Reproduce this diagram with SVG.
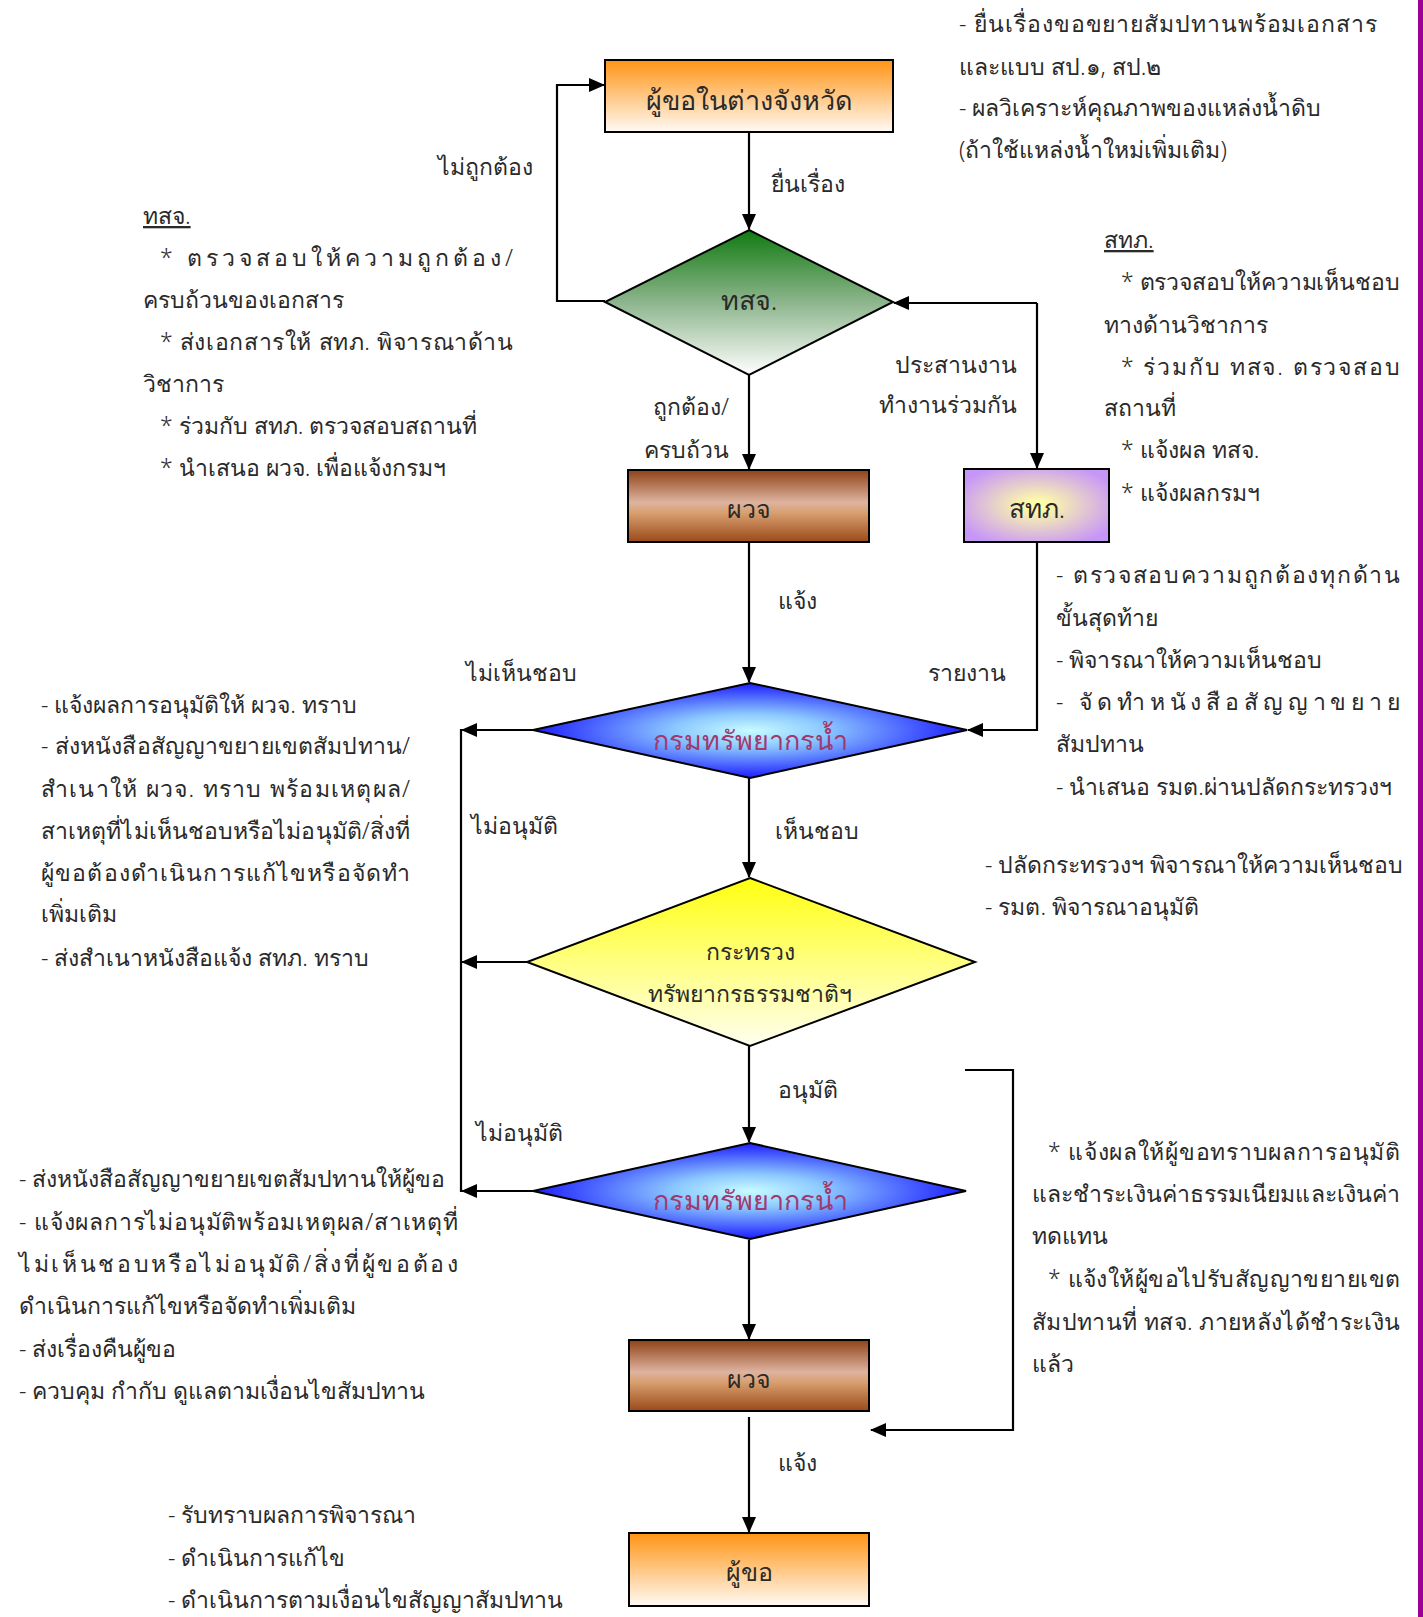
<svg xmlns="http://www.w3.org/2000/svg" width="1423" height="1617" viewBox="0 0 1423 1617">
<style>
text{font-family:"Noto Sans","DejaVu Sans",sans-serif;fill:#2a2a2a;font-weight:300;}
.t{font-size:23px;}
.c{text-anchor:middle;}
.e{text-anchor:end;}
.nt{font-size:27px;text-anchor:middle;}
.bl{font-size:27px;text-anchor:middle;fill:#a03a6e;}
.shape{stroke:#000;stroke-width:2;}
.conn path{fill:none;stroke:#000;stroke-width:2.2;}
.u{text-decoration:underline;}
</style>
<defs>
<marker id="ah" markerUnits="userSpaceOnUse" markerWidth="16" markerHeight="16" viewBox="0 0 16 16" refX="15" refY="8" orient="auto"><path d="M0,1 L16,8 L0,15 Z" fill="#000"/></marker>
<linearGradient id="gOr" x1="0" y1="0" x2="0" y2="1"><stop offset="0" stop-color="#ff9414"/><stop offset="1" stop-color="#fffaf4"/></linearGradient>
<linearGradient id="gGr" x1="0" y1="0" x2="0" y2="1"><stop offset="0" stop-color="#107a10"/><stop offset="0.5" stop-color="#8db58d"/><stop offset="1" stop-color="#ffffff"/></linearGradient>
<linearGradient id="gBr" x1="0" y1="0" x2="0" y2="1"><stop offset="0" stop-color="#8e4216"/><stop offset="0.45" stop-color="#deb3a0"/><stop offset="0.6" stop-color="#d89e6e"/><stop offset="1" stop-color="#9a4a1a"/></linearGradient>
<radialGradient id="gPu" cx="0.5" cy="0.5" r="0.6"><stop offset="0.1" stop-color="#fffca8"/><stop offset="1" stop-color="#c695f8"/></radialGradient>
<radialGradient id="gBl" cx="0.5" cy="0.5" r="0.5"><stop offset="0" stop-color="#c8fcff"/><stop offset="0.35" stop-color="#8cc8ff"/><stop offset="1" stop-color="#1c1cff"/></radialGradient>
<linearGradient id="gYe" x1="0" y1="0" x2="0" y2="1"><stop offset="0" stop-color="#ffff10"/><stop offset="1" stop-color="#fffff0"/></linearGradient>
</defs>
<rect width="1423" height="1617" fill="#fff"/>
<rect x="1418" y="0" width="5" height="1617" fill="#990099"/>

<g id="connectors" class="conn">
<path d="M749,132 V229" marker-end="url(#ah)"/>
<path d="M605,301 H557 V85 H604" marker-end="url(#ah)"/>
<path d="M749,375 V469" marker-end="url(#ah)"/>
<path d="M1037,303 H894" marker-end="url(#ah)"/>
<path d="M1037,303 V468" marker-end="url(#ah)"/>
<path d="M749,542 V682" marker-end="url(#ah)"/>
<path d="M1037,542 V730 H968" marker-end="url(#ah)"/>
<path d="M533,730 H462" marker-end="url(#ah)"/>
<path d="M461,729 V1192"/>
<path d="M749,778 V877" marker-end="url(#ah)"/>
<path d="M527,962 H462" marker-end="url(#ah)"/>
<path d="M749,1046 V1142" marker-end="url(#ah)"/>
<path d="M533,1191 H462" marker-end="url(#ah)"/>
<path d="M749,1240 V1339" marker-end="url(#ah)"/>
<path d="M965,1070 H1013 V1430 H871" marker-end="url(#ah)"/>
<path d="M749,1417 V1532" marker-end="url(#ah)"/>
</g>

<g id="n1"><rect class="shape" x="605" y="60" width="288" height="72" fill="url(#gOr)"/><text class="nt" x="749" y="110">ผู้ขอในต่างจังหวัด</text></g>
<g id="n2"><path class="shape" d="M749,230 L893,302 L749,375 L605,302 Z" fill="url(#gGr)"/><text class="nt" x="749" y="310">ทสจ.</text></g>
<g id="n3"><rect class="shape" x="628" y="470" width="241" height="72" fill="url(#gBr)"/><text class="nt" x="749" y="518" style="font-size:25px">ผวจ</text></g>
<g id="n4"><rect class="shape" x="964" y="469" width="145" height="73" fill="url(#gPu)"/><text class="nt" x="1037" y="518" style="font-size:26px">สทภ.</text></g>
<g id="n5"><path class="shape" d="M750,683 L967,730 L750,778 L533,730 Z" fill="url(#gBl)"/><text class="bl" x="750" y="750">กรมทรัพยากรน้ำ</text></g>
<g id="n6"><path class="shape" d="M750,878 L975,962 L750,1046 L527,962 Z" fill="url(#gYe)"/><text class="t c" x="750" y="960">กระทรวง</text><text class="t c" x="750" y="1002">ทรัพยากรธรรมชาติฯ</text></g>
<g id="n7"><path class="shape" d="M750,1143 L966,1191 L750,1239 L533,1191 Z" fill="url(#gBl)"/><text class="bl" x="750" y="1210">กรมทรัพยากรน้ำ</text></g>
<g id="n8"><rect class="shape" x="629" y="1340" width="240" height="71" fill="url(#gBr)"/><text class="nt" x="749" y="1388" style="font-size:25px">ผวจ</text></g>
<g id="n9"><rect class="shape" x="629" y="1533" width="240" height="73" fill="url(#gOr)"/><text class="nt" x="749" y="1581" style="font-size:25px">ผู้ขอ</text></g>

<g id="labels" class="t">
<text x="438" y="175">ไม่ถูกต้อง</text>
<text x="771" y="192">ยื่นเรื่อง</text>
<text class="e" x="1017" y="373">ประสานงาน</text>
<text class="e" x="1017" y="413">ทำงานร่วมกัน</text>
<text class="e" x="729" y="415">ถูกต้อง/</text>
<text class="e" x="729" y="458">ครบถ้วน</text>
<text x="778" y="609">แจ้ง</text>
<text x="466" y="681">ไม่เห็นชอบ</text>
<text x="928" y="681">รายงาน</text>
<text x="471" y="834">ไม่อนุมัติ</text>
<text x="775" y="839">เห็นชอบ</text>
<text x="778" y="1098">อนุมัติ</text>
<text x="476" y="1141">ไม่อนุมัติ</text>
<text x="778" y="1471">แจ้ง</text>
</g>

<g id="note-top-right" class="t">
<text x="959" y="32" textLength="418" lengthAdjust="spacing">- ยื่นเรื่องขอขยายสัมปทานพร้อมเอกสาร</text>
<text x="959" y="75">และแบบ สป.๑, สป.๒</text>
<text x="959" y="116">- ผลวิเคราะห์คุณภาพของแหล่งน้ำดิบ</text>
<text x="959" y="158">(ถ้าใช้แหล่งน้ำใหม่เพิ่มเติม)</text>
</g>

<g id="note-tsj" class="t">
<text class="u" x="143" y="224">ทสจ.</text>
<text x="160" y="266" textLength="353" lengthAdjust="spacing">* ตรวจสอบให้ความถูกต้อง/</text>
<text x="143" y="308">ครบถ้วนของเอกสาร</text>
<text x="160" y="350" textLength="353" lengthAdjust="spacing">* ส่งเอกสารให้ สทภ. พิจารณาด้าน</text>
<text x="143" y="392">วิชาการ</text>
<text x="160" y="434">* ร่วมกับ สทภ. ตรวจสอบสถานที่</text>
<text x="160" y="476">* นำเสนอ ผวจ. เพื่อแจ้งกรมฯ</text>
</g>

<g id="note-sthp" class="t">
<text class="u" x="1104" y="248">สทภ.</text>
<text x="1121" y="290" textLength="279" lengthAdjust="spacing">* ตรวจสอบให้ความเห็นชอบ</text>
<text x="1104" y="333">ทางด้านวิชาการ</text>
<text x="1121" y="375" textLength="279" lengthAdjust="spacing">* ร่วมกับ ทสจ. ตรวจสอบ</text>
<text x="1104" y="416">สถานที่</text>
<text x="1121" y="458">* แจ้งผล ทสจ.</text>
<text x="1121" y="501">* แจ้งผลกรมฯ</text>
</g>

<g id="note-dept" class="t">
<text x="1056" y="583" textLength="344" lengthAdjust="spacing">- ตรวจสอบความถูกต้องทุกด้าน</text>
<text x="1056" y="626">ขั้นสุดท้าย</text>
<text x="1056" y="668">- พิจารณาให้ความเห็นชอบ</text>
<text x="1056" y="710" textLength="344" lengthAdjust="spacing">- จัดทำหนังสือสัญญาขยาย</text>
<text x="1056" y="752">สัมปทาน</text>
<text x="1056" y="795">- นำเสนอ รมต.ผ่านปลัดกระทรวงฯ</text>
</g>

<g id="note-ministry" class="t">
<text x="985" y="873">- ปลัดกระทรวงฯ พิจารณาให้ความเห็นชอบ</text>
<text x="985" y="915">- รมต. พิจารณาอนุมัติ</text>
</g>

<g id="note-left1" class="t">
<text x="41" y="713">- แจ้งผลการอนุมัติให้ ผวจ. ทราบ</text>
<text x="41" y="754" textLength="369" lengthAdjust="spacing">- ส่งหนังสือสัญญาขยายเขตสัมปทาน/</text>
<text x="41" y="797" textLength="369" lengthAdjust="spacing">สำเนาให้ ผวจ. ทราบ พร้อมเหตุผล/</text>
<text x="41" y="839" textLength="369" lengthAdjust="spacing">สาเหตุที่ไม่เห็นชอบหรือไม่อนุมัติ/สิ่งที่</text>
<text x="41" y="881" textLength="369" lengthAdjust="spacing">ผู้ขอต้องดำเนินการแก้ไขหรือจัดทำ</text>
<text x="41" y="922">เพิ่มเติม</text>
<text x="41" y="966">- ส่งสำเนาหนังสือแจ้ง สทภ. ทราบ</text>
</g>

<g id="note-left2" class="t">
<text x="19" y="1187">- ส่งหนังสือสัญญาขยายเขตสัมปทานให้ผู้ขอ</text>
<text x="19" y="1230" textLength="439" lengthAdjust="spacing">- แจ้งผลการไม่อนุมัติพร้อมเหตุผล/สาเหตุที่</text>
<text x="19" y="1272" textLength="439" lengthAdjust="spacing">ไม่เห็นชอบหรือไม่อนุมัติ/สิ่งที่ผู้ขอต้อง</text>
<text x="19" y="1314">ดำเนินการแก้ไขหรือจัดทำเพิ่มเติม</text>
<text x="19" y="1357">- ส่งเรื่องคืนผู้ขอ</text>
<text x="19" y="1399">- ควบคุม กำกับ ดูแลตามเงื่อนไขสัมปทาน</text>
</g>

<g id="note-right2" class="t">
<text x="1048" y="1160" textLength="352" lengthAdjust="spacing">* แจ้งผลให้ผู้ขอทราบผลการอนุมัติ</text>
<text x="1032" y="1202" textLength="368" lengthAdjust="spacing">และชำระเงินค่าธรรมเนียมและเงินค่า</text>
<text x="1032" y="1244">ทดแทน</text>
<text x="1048" y="1287" textLength="352" lengthAdjust="spacing">* แจ้งให้ผู้ขอไปรับสัญญาขยายเขต</text>
<text x="1032" y="1330" textLength="368" lengthAdjust="spacing">สัมปทานที่ ทสจ. ภายหลังได้ชำระเงิน</text>
<text x="1032" y="1372">แล้ว</text>
</g>

<g id="note-bottom" class="t">
<text x="168" y="1523">- รับทราบผลการพิจารณา</text>
<text x="168" y="1566">- ดำเนินการแก้ไข</text>
<text x="168" y="1608">- ดำเนินการตามเงื่อนไขสัญญาสัมปทาน</text>
</g>
</svg>
